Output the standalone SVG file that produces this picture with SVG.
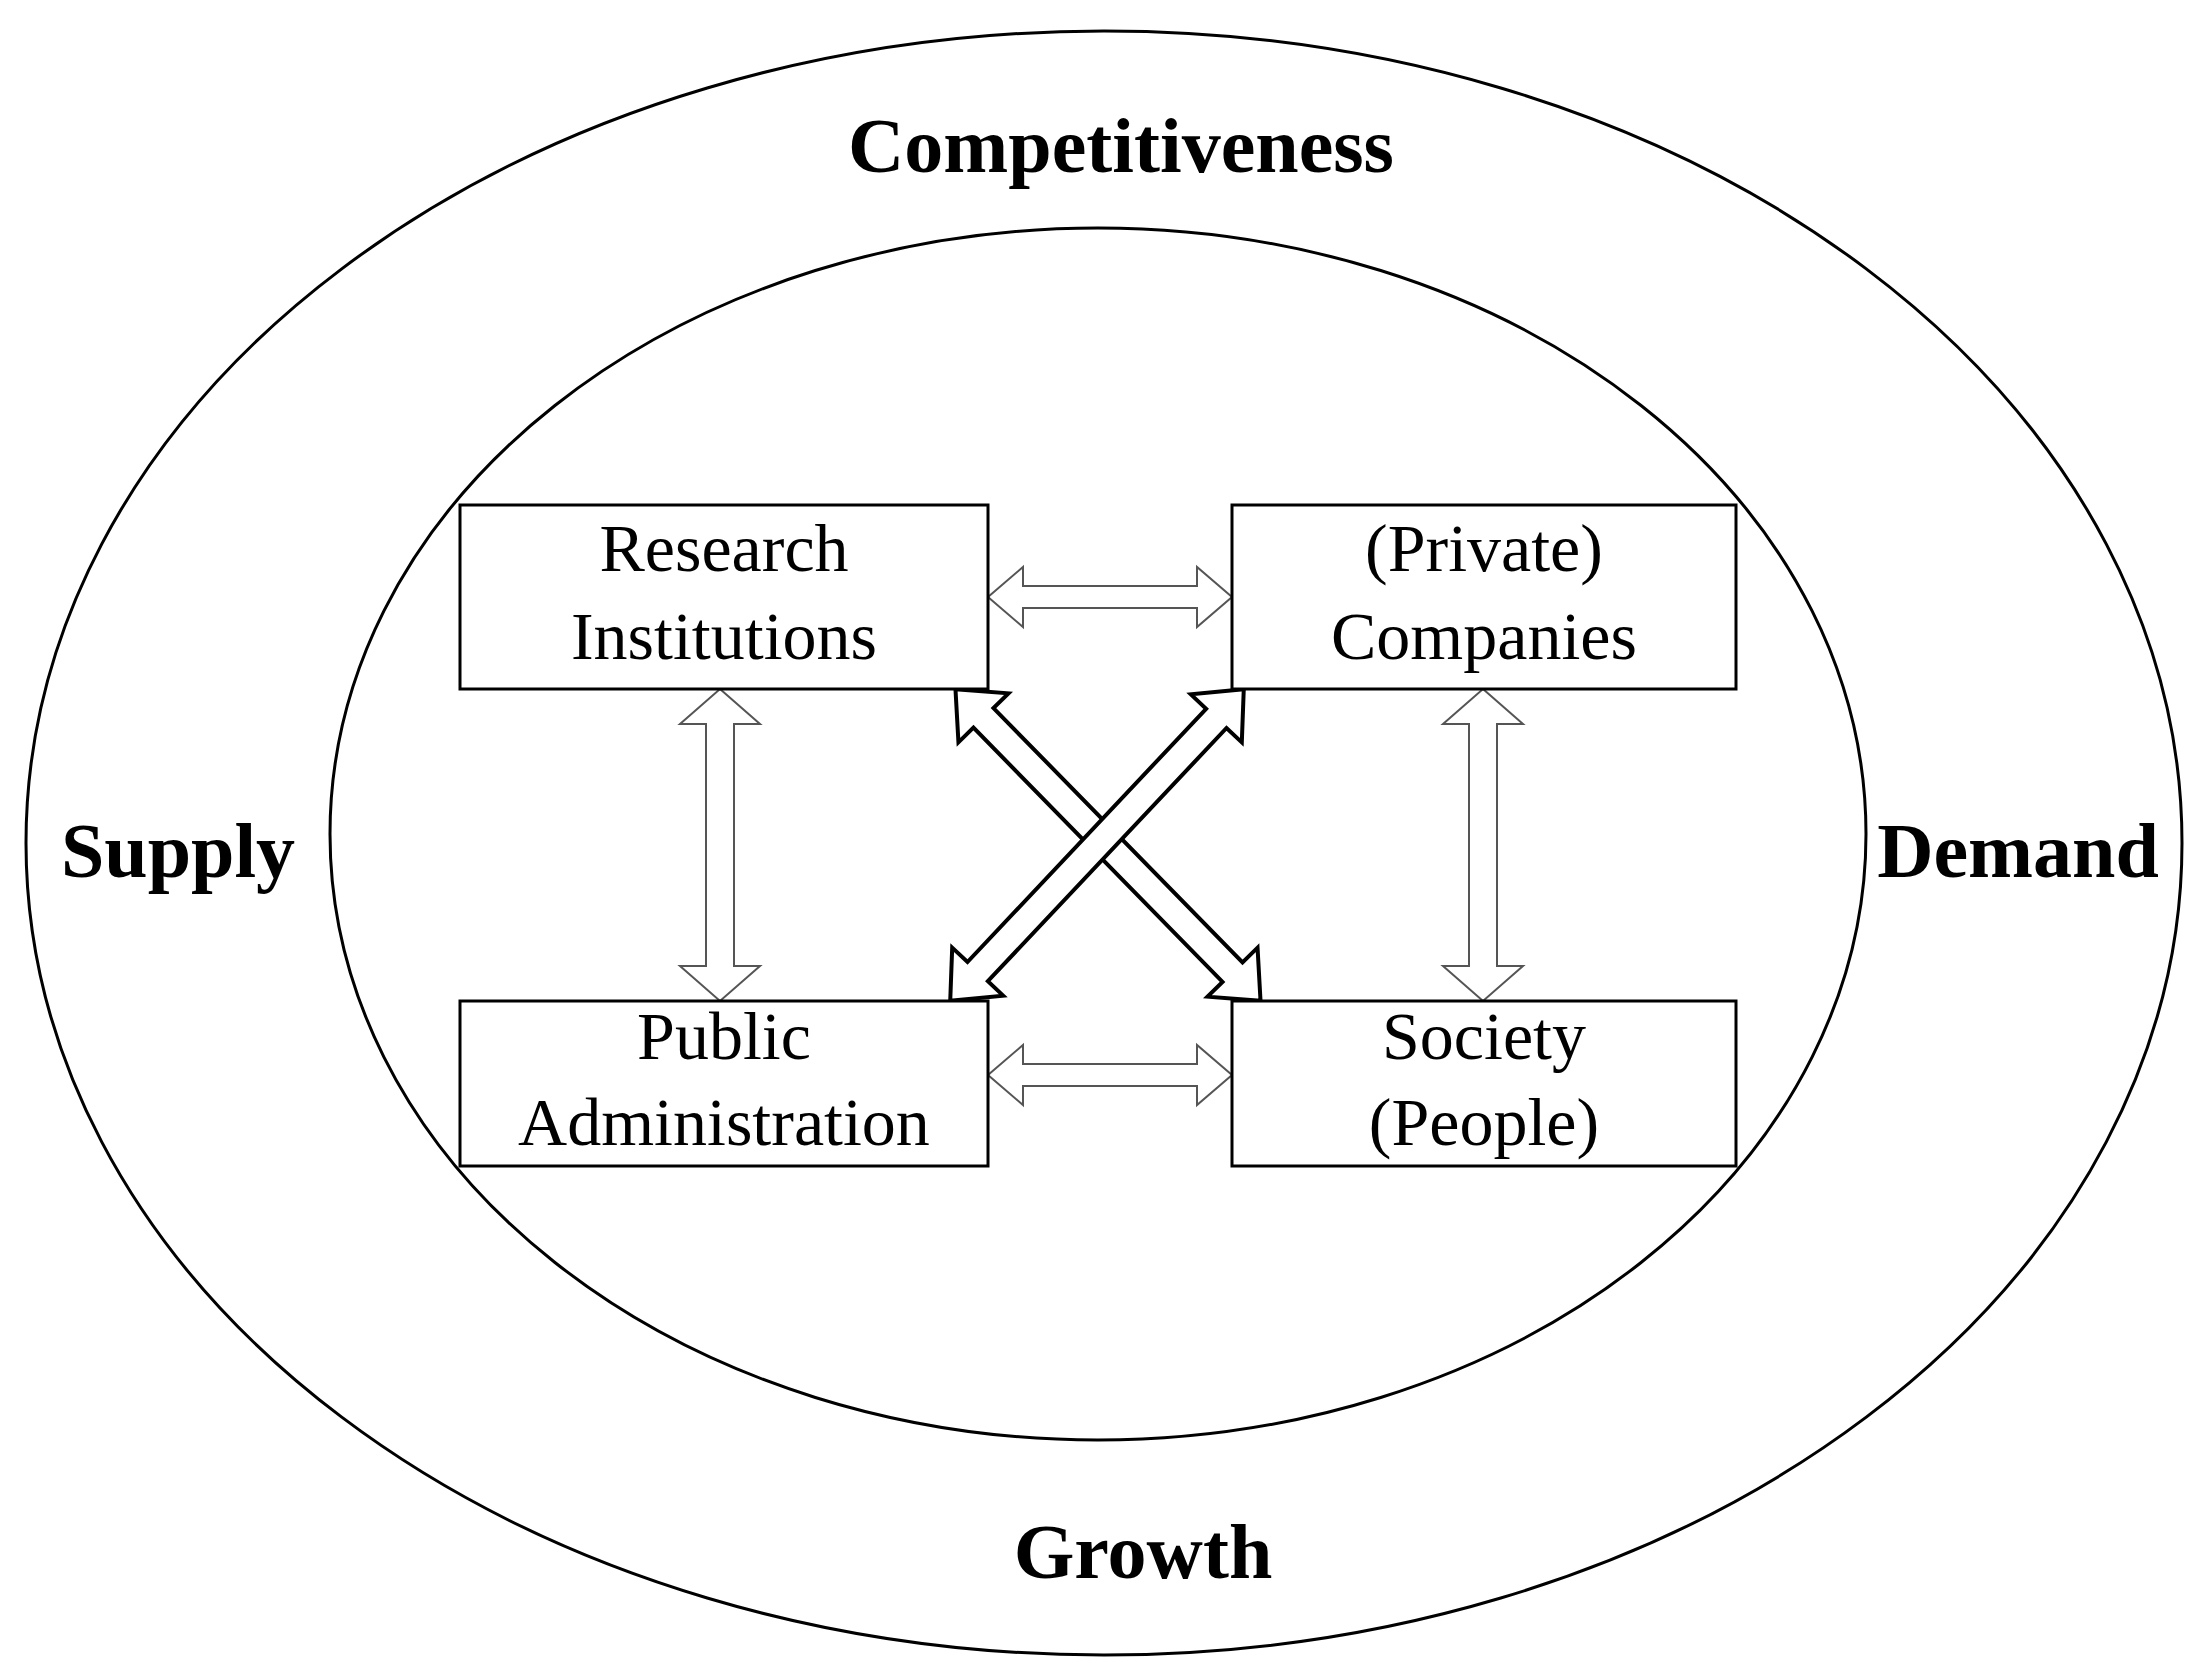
<svg xmlns="http://www.w3.org/2000/svg" width="2193" height="1673" viewBox="0 0 2193 1673">
<style>
.e{fill:none;stroke:#000;stroke-width:3}
.b{fill:#fff;stroke:#000;stroke-width:3}
.a{fill:#fff;stroke:#555;stroke-width:2}
.d{fill:#fff;stroke:#000;stroke-width:4}
.t{font-family:"Liberation Serif",serif;font-size:68px;text-anchor:middle}
.h{font-family:"Liberation Serif",serif;font-size:78px;font-weight:bold;text-anchor:middle}
</style>
<rect width="2193" height="1673" fill="#fff"/>
<g id="outer"><ellipse class="e" cx="1104" cy="843" rx="1078" ry="812"/>
<text class="h" x="1121" y="172">Competitiveness</text>
<text class="h" x="178" y="877">Supply</text>
<text class="h" x="2018" y="877">Demand</text>
<text class="h" x="1143" y="1578">Growth</text></g>
<g id="inner"><ellipse class="e" cx="1098" cy="834" rx="768" ry="606"/></g>
<g id="connectors">
<polygon class="a" transform="translate(1110,597)" points="-122,0 -87,-30 -87,-11 87,-11 87,-30 122,0 87,30 87,11 -87,11 -87,30"/>
<polygon class="a" transform="translate(1110,1075)" points="-122,0 -87,-30 -87,-11 87,-11 87,-30 122,0 87,30 87,11 -87,11 -87,30"/>
<polygon class="a" transform="translate(720,845) rotate(90)" points="-156,0 -121,-40 -121,-14 121,-14 121,-40 156,0 121,40 121,14 -121,14 -121,40"/>
<polygon class="a" transform="translate(1483,845) rotate(90)" points="-156,0 -121,-40 -121,-14 121,-14 121,-40 156,0 121,40 121,14 -121,14 -121,40"/>
<polygon class="d" transform="translate(1108,845) rotate(45.6)" points="-218,0 -178,-35 -178,-14 178,-14 178,-35 218,0 178,35 178,14 -178,14 -178,35"/>
<polygon class="d" transform="translate(1097,845) rotate(133.3)" points="-214,0 -174,-35 -174,-14 174,-14 174,-35 214,0 174,35 174,14 -174,14 -174,35"/>
</g>
<g id="ri"><rect class="b" x="460" y="505" width="528" height="184"/><text class="t" x="724" y="571">Research</text><text class="t" x="724" y="659">Institutions</text></g>
<g id="pc"><rect class="b" x="1232" y="505" width="504" height="184"/><text class="t" x="1484" y="571">(Private)</text><text class="t" x="1484" y="659">Companies</text></g>
<g id="pa"><rect class="b" x="460" y="1001" width="528" height="165"/><text class="t" x="724" y="1059">Public</text><text class="t" x="724" y="1145">Administration</text></g>
<g id="sp"><rect class="b" x="1232" y="1001" width="504" height="165"/><text class="t" x="1484" y="1059">Society</text><text class="t" x="1484" y="1145">(People)</text></g>
</svg>
